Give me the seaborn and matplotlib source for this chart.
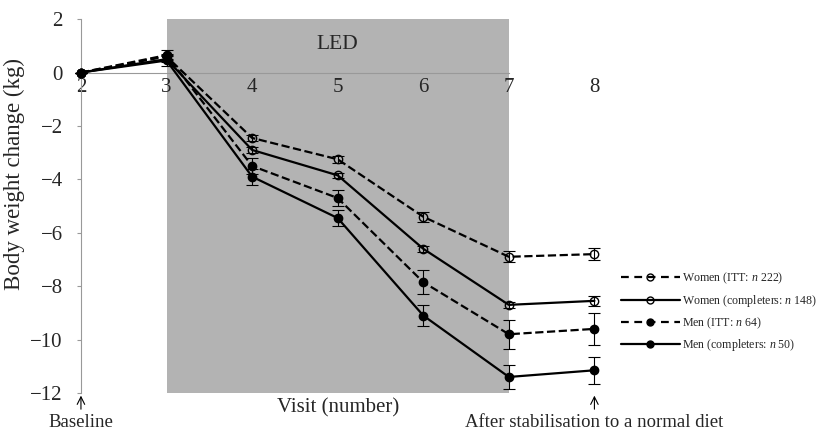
import matplotlib

matplotlib.use("Agg")
import matplotlib.pyplot as plt
import numpy as np
import pandas as pd
import seaborn as sns

visits = [2, 3, 4, 5, 6, 7, 8]

women_itt = [0, 0.6, -2.45, -3.25, -5.4, -6.9, -6.8]
women_itt_err = [0, 0.1, 0.12, 0.12, 0.18, 0.2, 0.22]
women_comp = [0, 0.5, -2.9, -3.85, -6.6, -8.7, -8.55]
women_comp_err = [0, 0.1, 0.12, 0.1, 0.12, 0.12, 0.18]
men_itt = [0, 0.65, -3.5, -4.7, -7.85, -9.8, -9.6]
men_itt_err = [0, 0.2, 0.3, 0.3, 0.45, 0.55, 0.6]
men_comp = [0, 0.45, -3.9, -5.45, -9.1, -11.4, -11.15]
men_comp_err = [0, 0.2, 0.3, 0.3, 0.4, 0.45, 0.5]

series = [
    ("Women (ITT: $\\it{n}$ 222)", women_itt, women_itt_err, "--", "none"),
    ("Women (completers: $\\it{n}$ 148)", women_comp, women_comp_err, "-", "none"),
    ("Men (ITT: $\\it{n}$ 64)", men_itt, men_itt_err, "--", "black"),
    ("Men (completers: $\\it{n}$ 50)", men_comp, men_comp_err, "-", "black"),
]

sns.set_style("ticks")
plt.rcParams["font.family"] = ["Liberation Serif", "DejaVu Serif"]
plt.rcParams["mathtext.fontset"] = "custom"
plt.rcParams["mathtext.it"] = "Liberation Serif:italic"
plt.rcParams["mathtext.rm"] = "Liberation Serif"

fig = plt.figure(figsize=(8.26, 4.34), dpi=100)
ax = fig.add_axes([0.098, 0.0945, 0.632, 0.8615])

ax.axvspan(3, 7, color="#b3b3b3", lw=0, zorder=0)

handles = []
for label, vals, err, ls, fc in series:
    df = pd.DataFrame({"visit": visits, "change": vals})
    sns.lineplot(
        data=df, x="visit", y="change", ax=ax, color="black", linestyle=ls,
        dashes=(3.5, 2.5) if ls == "--" else None,
        marker="o", markersize=6,
        markerfacecolor=fc, markeredgecolor="black", markeredgewidth=1,
        linewidth=1.6, clip_on=False, zorder=3,
    )
    ax.errorbar(visits, vals, yerr=err, fmt="none", ecolor="black",
                elinewidth=0.8, capsize=4, capthick=0.8, clip_on=False, zorder=2)
    h = plt.Line2D([], [], color="black", linestyle=ls, marker="o",
                   markersize=5, markerfacecolor=fc, markeredgecolor="black",
                   linewidth=1.6, label=label)
    if ls == "--":
        h.set_dashes((3.5, 2.5))
    handles.append(h)

ax.set_xlim(2, 8.1)
ax.set_ylim(-12, 2)
ax.set_xticks(visits)
ax.set_yticks(np.arange(-12, 3, 2))
ax.spines["bottom"].set_position(("data", 0))
ax.spines["bottom"].set_bounds(2, 7)
ax.spines["right"].set_visible(False)
ax.spines["top"].set_visible(False)
for s in ("left", "bottom"):
    ax.spines[s].set_color("#999999")
    ax.spines[s].set_linewidth(0.8)
ax.spines["bottom"].set_zorder(1)
ax.tick_params(axis="y", labelsize=15, color="#999999", length=3, width=0.8,
               pad=10)
ax.tick_params(axis="x", labelsize=15, color="#999999", length=0, pad=4)
ax.set_xlabel("")
ax.set_ylabel("Body weight change (kg)", fontsize=16.5)
ax.yaxis.set_label_coords(-0.107, 0.585)

ax.text(5, 1.05, "LED", ha="center", va="center", fontsize=15.5)
ax.text(5, -12.55, "Visit (number)", ha="center", va="center", fontsize=15,
        clip_on=False)
for xpos, txt in [(2, "Baseline"), (8, "After stabilisation to a normal diet")]:
    ax.annotate(txt, xy=(xpos, -12.1), xytext=(xpos, -13.1), ha="center",
                va="center", fontsize=13.5, annotation_clip=False,
                arrowprops=dict(arrowstyle="->", color="black", lw=0.8,
                                shrinkA=1, shrinkB=0))

fig.legend(handles=handles, loc="center left", bbox_to_anchor=(0.744, 0.281),
           frameon=False, fontsize=8.6, handlelength=5.0, handletextpad=0.15,
           labelspacing=0.55, borderpad=0)

fig.savefig("out.png", dpi=100)
